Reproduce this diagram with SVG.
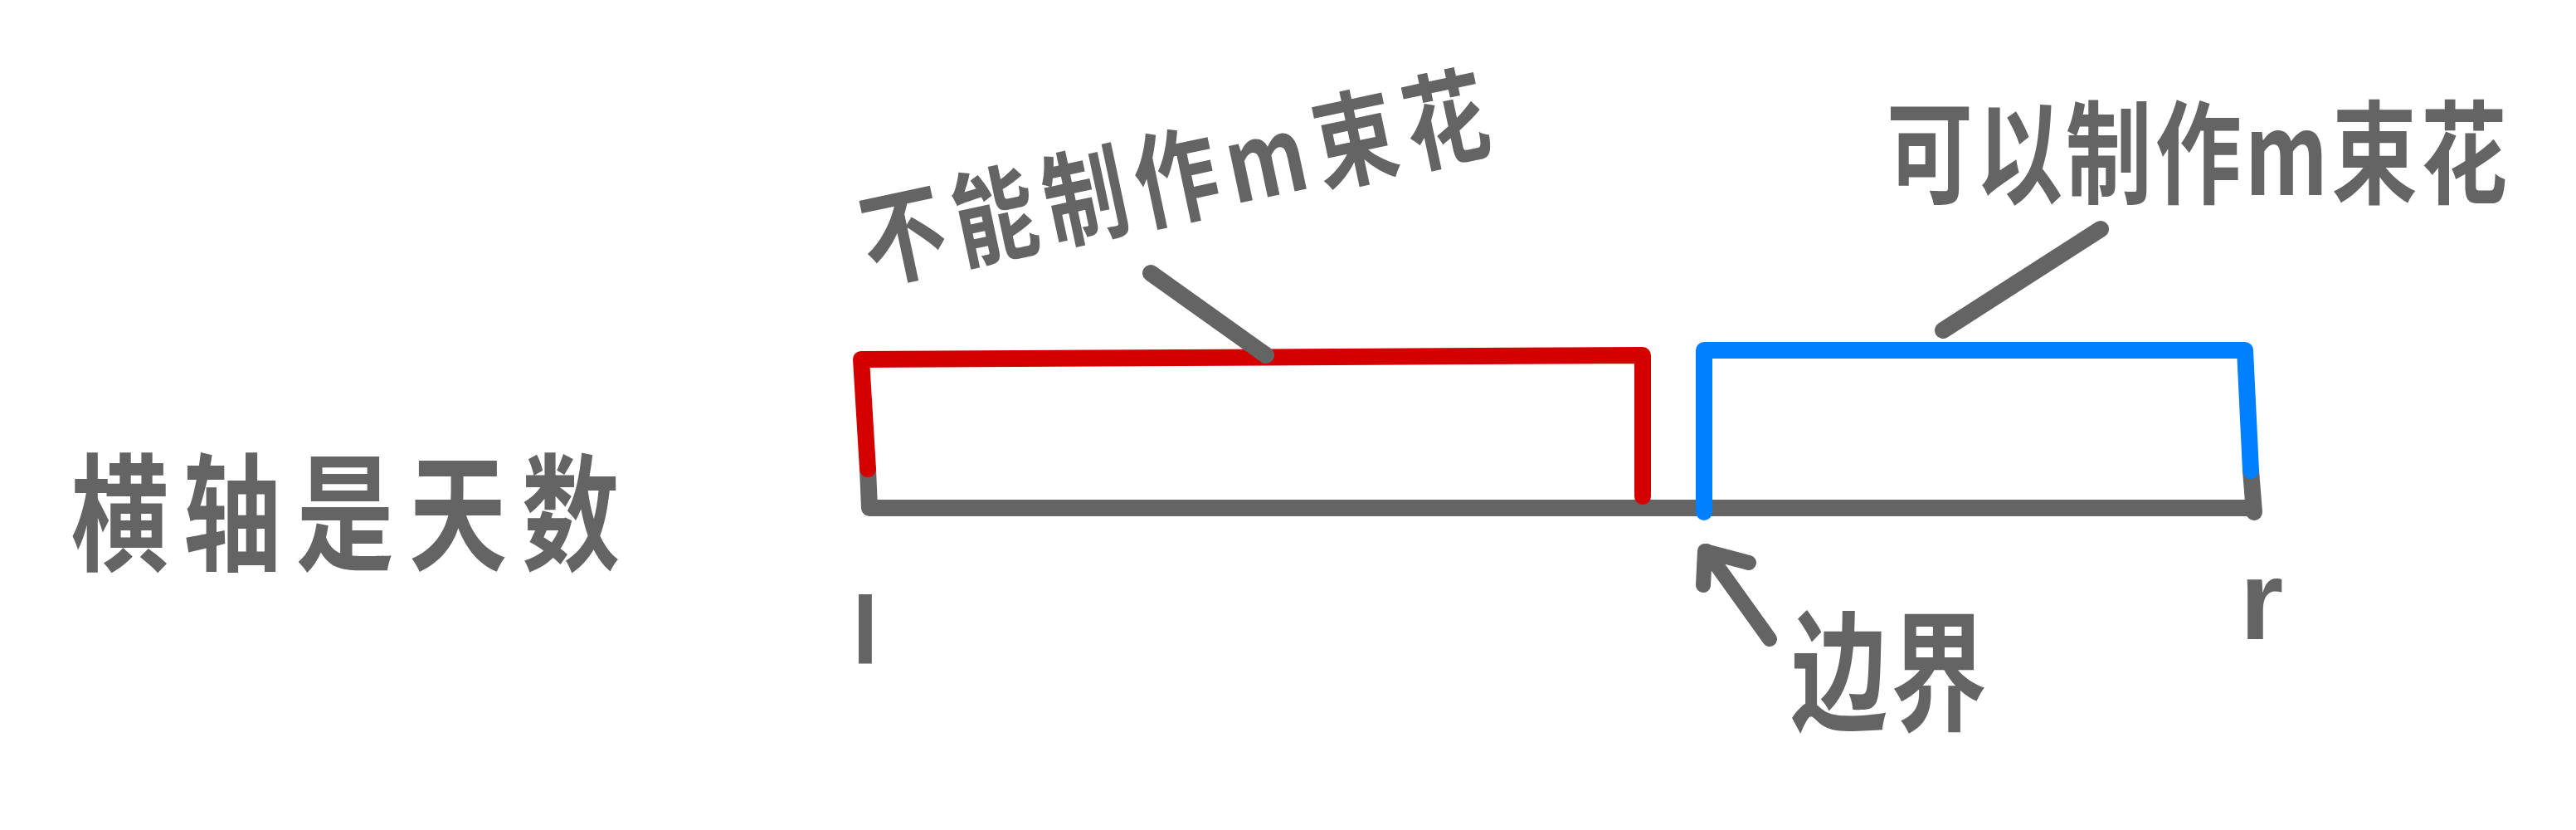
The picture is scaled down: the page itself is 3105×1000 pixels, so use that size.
<svg xmlns="http://www.w3.org/2000/svg" width="3105" height="1000" viewBox="0 0 3105 1000">
<style>
.s{fill:none;stroke-width:20;stroke-linecap:round;stroke-linejoin:round}
.g{stroke:#646464}
.r{stroke:#d40000}
.b{stroke:#007fff}
.t{fill:#646464;font-family:"Noto Sans CJK SC","Noto Sans",sans-serif;font-weight:bold}
.lt{fill:#646464;font-family:"Liberation Sans",sans-serif;font-weight:bold}
</style>
<rect width="3105" height="1000" fill="#ffffff"/>
<g id="axis">
<path class="s g" d="M1046,565 L1048,612 L2715,612"/>
<path class="s g" d="M2713,567 L2717,617"/>
</g>
<g id="range-not">
<path class="s r" d="M1046,565 L1038,433 L1980,428 L1980,598"/>
</g>
<g id="range-can">
<path class="s b" d="M2054,617 L2054,422 L2706,422 L2713,567"/>
</g>
<g id="connectors">
<path class="s g" d="M1387,329 L1526,428"/>
<path class="s g" d="M2342,398 L2532,276"/>
<path class="s g" d="M2133,770 L2057,664 M2053,705 L2055,664 L2108,678" style="stroke-width:18"/>
</g>
<g id="label-not">
<text class="t" x="0" y="0" font-size="100" letter-spacing="12" text-anchor="middle" dominant-baseline="central" transform="translate(1420 205) rotate(-12) scale(1 1.25)">不能制作m束花</text>
</g>
<g id="label-can">
<text class="t" x="0" y="0" font-size="104" letter-spacing="4" text-anchor="middle" dominant-baseline="central" transform="translate(2650 176) scale(1 1.3)">可以制作m束花</text>
</g>
<g id="label-axis">
<text class="t" x="0" y="0" font-size="118" letter-spacing="18" text-anchor="middle" dominant-baseline="central" transform="translate(425 609) scale(1 1.3)">横轴是天数</text>
</g>
<g id="label-boundary">
<text class="t" x="0" y="0" font-size="116" letter-spacing="4" text-anchor="middle" dominant-baseline="central" transform="translate(2279 800) scale(1 1.35)">边界</text>
</g>
<g id="label-l">
<text class="lt" x="1043" y="800" font-size="115" text-anchor="middle">l</text>
</g>
<g id="label-r">
<text class="lt" x="2726" y="770" font-size="135" text-anchor="middle">r</text>
</g>
</svg>
